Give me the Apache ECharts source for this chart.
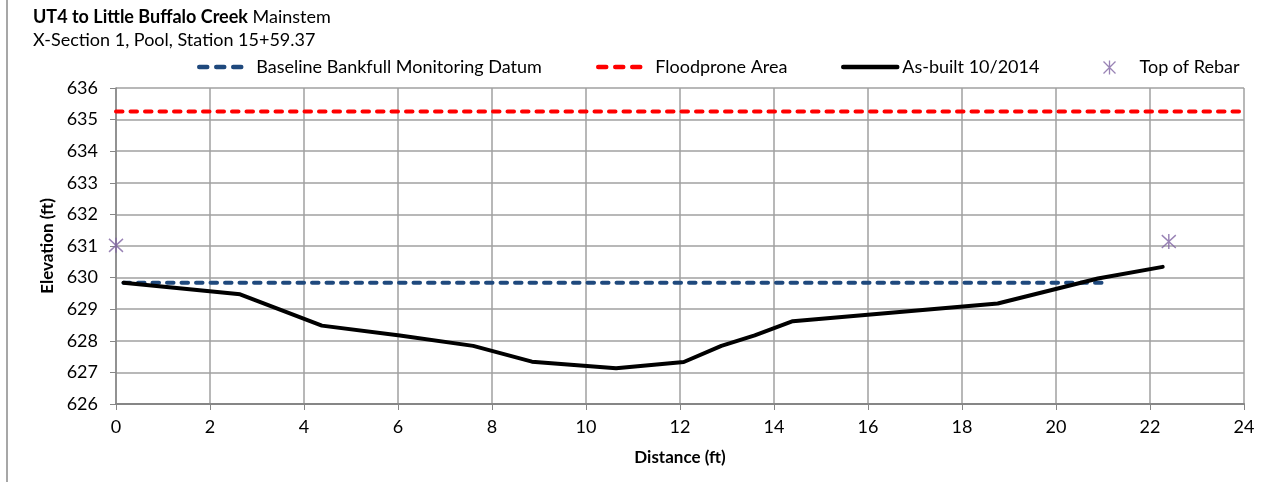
<!DOCTYPE html>
<html>
<head>
<meta charset="utf-8">
<script src="https://cdn.jsdelivr.net/npm/echarts@6/dist/echarts.min.js"></script>
<style>
html,body{margin:0;padding:0;background:#fff;}
#chart{width:1283px;height:482px;}
</style>
</head>
<body>
<div id="chart"></div>
<script>
// ---- data ----
const titleBold = 'UT4 to Little Buffalo Creek';
const titleRest = ' Mainstem';
const subTitle = 'X-Section 1, Pool, Station 15+59.37';
const seriesNames = ['Baseline Bankfull Monitoring Datum', 'Floodprone Area', 'As-built 10/2014', 'Top of Rebar'];

const baselineX = [0.16, 20.97];
const baselineY = [629.84, 629.84];

const floodX = [0, 24];
const floodY = [635.26, 635.26];

const asbuiltX = [0.16, 2.64, 4.38, 6.04, 7.60, 8.85, 10.64, 12.08, 12.88, 13.59, 14.40, 18.76, 20.89, 22.27];
const asbuiltY = [629.84, 629.47, 628.48, 628.17, 627.84, 627.34, 627.13, 627.33, 627.84, 628.17, 628.62, 629.18, 629.97, 630.34];

const rebarX = [0, 22.40];
const rebarY = [631.02, 631.14];

const xMin = 0, xMax = 24, xStep = 2;
const yMin = 626, yMax = 636, yStep = 1;
const xTitle = 'Distance (ft)';
const yTitle = 'Elevation (ft)';

const pairs = (xs, ys) => xs.map((x, i) => [x, ys[i]]);

const FONT = 'Lato';
const asterisk = 'path://M0,0 L12,12 M12,0 L0,12 M6,-1 L6,13';

const chart = echarts.init(document.getElementById('chart'), null, {renderer: 'canvas'});

const legendText = (padLeft) => ({fontFamily: FONT, fontSize: 18, color: '#000', padding: [0, 0, 0, padLeft]});
const legendBase = {
  orient: 'horizontal', top: 58, padding: 0, itemWidth: 46, itemHeight: 14, itemGap: 10,
  selectedMode: false,
  itemStyle: {color: 'transparent', borderColor: 'transparent', borderWidth: 0}
};

chart.setOption({
  animation: false,
  backgroundColor: '#fff',
  textStyle: {fontFamily: FONT},
  title: [
    {
      left: 28, top: 3,
      text: '{b|' + titleBold + '}{n|' + titleRest + '}',
      textStyle: {
        rich: {
          b: {fontFamily: FONT, fontWeight: 'bold', fontSize: 18, color: '#000'},
          n: {fontFamily: FONT, fontWeight: 'normal', fontSize: 18, color: '#000'}
        }
      }
    },
    {
      left: 28, top: 26, text: subTitle,
      textStyle: {fontFamily: FONT, fontWeight: 'normal', fontSize: 18, color: '#000'}
    }
  ],
  legend: [
    Object.assign({}, legendBase, {
      left: 197, data: [seriesNames[0]], textStyle: legendText(6),
      lineStyle: {color: '#1F497D', width: 4.5, type: [8, 9], cap: 'round'}
    }),
    Object.assign({}, legendBase, {
      left: 596, data: [seriesNames[1]], textStyle: legendText(6),
      lineStyle: {color: '#FF0000', width: 4.5, type: [8, 9], cap: 'round'}
    }),
    Object.assign({}, legendBase, {
      left: 841, itemWidth: 54, data: [seriesNames[2]], textStyle: legendText(0),
      lineStyle: {color: '#000', width: 4.5, type: 'solid'}
    }),
    {
      orient: 'horizontal', top: 58, padding: 0, left: 1101, itemWidth: 14, itemHeight: 14,
      selectedMode: false, data: [{name: seriesNames[3], icon: asterisk}],
      itemStyle: {color: 'none', borderColor: '#8064A2', borderWidth: 1.3},
      textStyle: legendText(18)
    }
  ],
  grid: {left: 116, right: 39, top: 88, bottom: 78, containLabel: false},
  xAxis: {
    type: 'value', min: xMin, max: xMax, interval: xStep,
    name: xTitle, nameLocation: 'middle', nameGap: 45,
    nameTextStyle: {fontFamily: FONT, fontWeight: 'bold', fontSize: 17, color: '#000'},
    axisLine: {show: true, onZero: false, lineStyle: {color: '#868686', width: 2}},
    axisTick: {show: true, length: 6, lineStyle: {color: '#868686', width: 1}},
    axisLabel: {fontFamily: FONT, fontSize: 18, color: '#000', margin: 14},
    splitLine: {show: true, lineStyle: {color: '#a0a0a0', width: 1.5}}
  },
  yAxis: {
    type: 'value', min: yMin, max: yMax, interval: yStep,
    name: yTitle, nameLocation: 'middle', nameGap: 50, nameRotate: 90,
    nameTextStyle: {fontFamily: FONT, fontWeight: 'bold', fontSize: 17, color: '#000'},
    axisLine: {show: true, lineStyle: {color: '#868686', width: 1.5}},
    axisTick: {show: true, length: 6, lineStyle: {color: '#868686', width: 1}},
    axisLabel: {fontFamily: FONT, fontSize: 18, color: '#000', margin: 18},
    splitLine: {show: true, lineStyle: {color: '#a0a0a0', width: 1.5}}
  },
  series: [
    {
      name: seriesNames[0], type: 'line', data: pairs(baselineX, baselineY),
      showSymbol: false, symbol: 'none', z: 3,
      lineStyle: {color: '#1F497D', width: 4, type: [6.5, 8], cap: 'round'},
      itemStyle: {color: '#1F497D'}
    },
    {
      name: seriesNames[1], type: 'line', data: pairs(floodX, floodY),
      showSymbol: false, symbol: 'none', z: 3,
      lineStyle: {color: '#FF0000', width: 4, type: [6.5, 8], cap: 'round'},
      itemStyle: {color: '#FF0000'}
    },
    {
      name: seriesNames[2], type: 'line', data: pairs(asbuiltX, asbuiltY),
      showSymbol: false, symbol: 'none', z: 4,
      lineStyle: {color: '#000', width: 4, cap: 'round', join: 'round'},
      itemStyle: {color: '#000'}
    },
    {
      name: seriesNames[3], type: 'scatter', data: pairs(rebarX, rebarY),
      symbol: asterisk, symbolSize: [14, 15], z: 5,
      itemStyle: {color: 'none', borderColor: '#8064A2', borderWidth: 1.5}
    }
  ],
  graphic: [
    {type: 'line', shape: {x1: 7, y1: 0, x2: 7, y2: 482}, style: {stroke: '#8a8a8a', lineWidth: 1.5}, silent: true}
  ]
});
</script>
</body>
</html>
